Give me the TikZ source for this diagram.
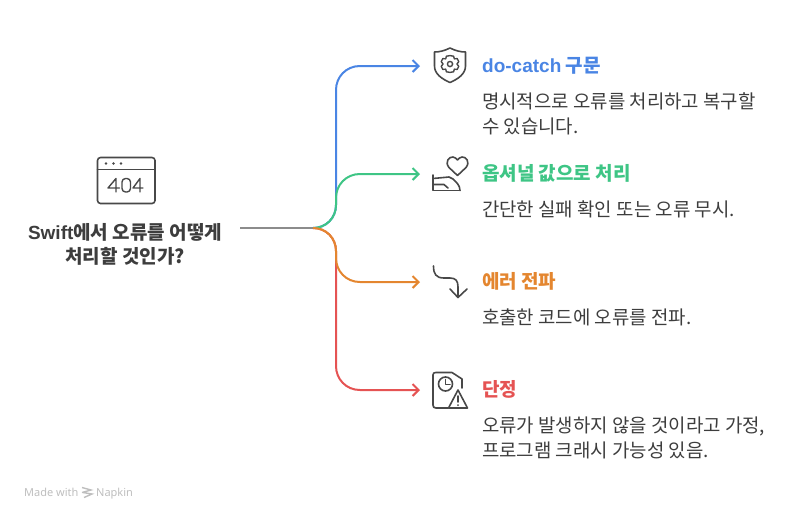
\documentclass[tikz,border=0pt]{standalone}
\usepackage{fontspec}
\setmainfont{Noto Sans CJK KR}
\newfontfamily\latinfont{Liberation Sans}
\newfontfamily\markfont{Noto Sans}
\usetikzlibrary{arrows.meta}
\definecolor{cblue}{HTML}{4A85E4}
\definecolor{cgreen}{HTML}{3EC585}
\definecolor{corange}{HTML}{E4862F}
\definecolor{cred}{HTML}{E55353}
\definecolor{cgray}{HTML}{8C8C8C}
\definecolor{ctext}{HTML}{3D3D3D}
\definecolor{cicon}{HTML}{484848}
\definecolor{cmark}{HTML}{BEBEBE}
\tikzset{
  conn/.style={line width=2pt,-{Straight Barb[length=6pt,width=12pt,line width=2pt]}},
  icon/.style={draw=cicon,line width=1.6pt,line cap=round,line join=round},
  head/.style={anchor=base west,font=\fontsize{19}{22}\selectfont\bfseries,inner sep=0pt},
  body/.style={anchor=base west,font=\fontsize{18.9}{22}\selectfont,text=ctext,inner sep=0pt},
  root/.style={anchor=base,font=\fontsize{19}{22}\selectfont\bfseries,text=ctext,inner sep=0pt},
}
\begin{document}
\begin{tikzpicture}[x=1pt,y=-1pt]
\useasboundingbox (0,0) rectangle (804,520);
% named connector points
\coordinate (start) at (240,228);
\coordinate (hub) at (313,228);
\coordinate (tblue) at (420,66);
\coordinate (tgreen) at (420,174);
\coordinate (torange) at (420,282);
\coordinate (tred) at (420,390);
% connectors
\draw[cgray,line width=2pt] (start) -- (hub);
\draw[conn,cblue] (hub) .. controls (326,228) and (336,218) .. (336,205) -- (336,90) .. controls (336,77) and (346,66) .. (360,66) -- (tblue);
\draw[conn,cred] (hub) .. controls (326,228) and (336,238) .. (336,251) -- (336,366) .. controls (336,379) and (346,390) .. (360,390) -- (tred);
\draw[conn,cgreen] (hub) .. controls (326,228) and (336,218) .. (336,205) -- (336,198) .. controls (336,185) and (346,174) .. (360,174) -- (tgreen);
\draw[conn,corange] (hub) .. controls (326,228) and (336,238) .. (336,251) -- (336,258) .. controls (336,271) and (346,282) .. (360,282) -- (torange);
% root
\node[root] (r1) at (125,239) {{\latinfont Swift}에서 오류를 어떻게};
\node[root] (r2) at (125,263) {처리할 것인가?};
% 404 icon
\draw[icon,rounded corners=3pt] (97.5,157.5) rectangle (155,203.5);
\draw[icon] (97.5,169.5) -- (155,169.5);
\fill[cicon] (106,163.5) circle (1.4pt) (113.5,163.5) circle (1.4pt) (121,163.5) circle (1.4pt);
\draw[icon,line width=1.4pt] (119.5,188) -- (108,188) -- (116,178.5) -- (116,192);
\draw[icon,line width=1.4pt,rounded corners=3.5pt] (122,178.5) rectangle (130.5,192);
\draw[icon,line width=1.4pt] (143,188) -- (133,188) -- (140,178.5) -- (140,192);
% shield icon
\draw[icon] (450,48) .. controls (456,51) and (461,52) .. (465.5,52) -- (465.5,66) .. controls (465.5,74) and (458,79) .. (450,82.5) .. controls (442,79) and (434.5,74) .. (434.5,66) -- (434.5,52) .. controls (439,52) and (444,51) .. (450,48) -- cycle;
\draw[icon,line width=1.4pt,shift={(450,64)},scale=1.2,shift={(-450,-63.5)}] (450,56.5) -- (453,57) -- (453.6,59.2) -- (456,59) -- (457.3,61.5) -- (455.8,63.5) -- (457.3,65.5) -- (456,68) -- (453.6,67.8) -- (453,70) -- (450,70.5) -- (447,70) -- (446.4,67.8) -- (444,68) -- (442.7,65.5) -- (444.2,63.5) -- (442.7,61.5) -- (444,59) -- (446.4,59.2) -- (447,57) -- cycle;
\draw[icon,line width=1.4pt] (450,64) circle (2.6pt);
% heart hand icon
\draw[icon] (457.5,175.5) -- (449,167.5) .. controls (444.5,162) and (449,156.5) .. (453,157) .. controls (455,157.5) and (456.5,158.5) .. (457.5,160) .. controls (458.5,158.5) and (460,157.5) .. (462,157) .. controls (466,156.5) and (470.5,162) .. (466,167.5) -- cycle;
\draw[icon] (433,175) -- (433,190.5) -- (460,190.5);
\draw[icon] (433,178.5) -- (449,177) -- (453,179) .. controls (456,182) and (460,185) .. (460,190.5);
\draw[icon] (433,184.5) -- (444,184.5) -- (448,188);
% arrow icon
\draw[icon] (433.5,266) .. controls (433.5,274) and (436,278) .. (444,278) -- (450,278) .. controls (456,278) and (458,281) .. (458,287) -- (458,297.5);
\draw[icon] (450,289) -- (458,297.5) -- (467,289);
% document icon
\draw[icon] (448,408) -- (436,408) .. controls (434,408) and (433,407) .. (433,405) -- (433,375) .. controls (433,373) and (434,372.5) .. (436,372.5) -- (452,372.5) -- (462,379) -- (462,388);
\draw[icon] (445.5,384) circle (7pt);
\draw[icon] (445.5,379.5) -- (445.5,384.5) -- (450,384.5);
\draw[icon] (458,390) -- (467.5,408) -- (448.5,408) -- cycle;
\draw[icon] (458,396) -- (458,402);
\fill[cicon] (458,405) circle (1pt);
% headings
\node[head,text=cblue] (h1) at (482,72) {{\latinfont do-catch} 구문};
\node[head,text=cgreen] (h2) at (482,180) {옵셔널 값으로 처리};
\node[head,text=corange] (h3) at (482,288) {에러 전파};
\node[head,text=cred] (h4) at (482,396) {단정};
% bodies
\node[body] (b1) at (482,108) {명시적으로 오류를 처리하고 복구할};
\node[body] (b1b) at (482,133) {수 있습니다.};
\node[body] (b2) at (482,216) {간단한 실패 확인 또는 오류 무시.};
\node[body] (b3) at (482,324) {호출한 코드에 오류를 전파.};
\node[body] (b4) at (482,432) {오류가 발생하지 않을 것이라고 가정,};
\node[body] (b4b) at (482,457) {프로그램 크래시 가능성 있음.};
% watermark
\node[anchor=base west,inner sep=0pt,text=cmark,font=\markfont\fontsize{11}{12}\selectfont] (m1) at (24,496) {Made with};
\node[anchor=base west,inner sep=0pt,text=cmark,font=\markfont\fontsize{11}{12}\selectfont] (m2) at (96,496) {Napkin};
\draw[cmark,line width=1.4pt] (82,487.5) -- (91,490) -- (82,492.5) (83,492.5) -- (92,494) -- (84,497.5);
\end{tikzpicture}
\end{document}
